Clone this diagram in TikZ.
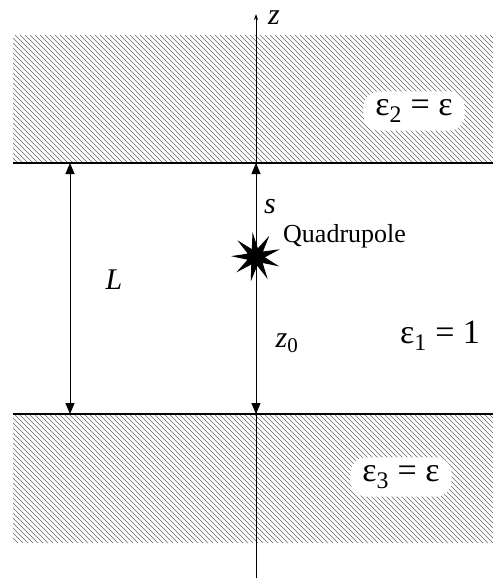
\documentclass[tikz,border=0pt]{standalone}
\usepackage{fontspec}
\setmainfont{Liberation Serif}
\usetikzlibrary{shapes.geometric,arrows.meta}
\begin{document}
\begin{tikzpicture}[x=1pt,y=-1pt,
  hatch/.style={gray!80!black,line width=0.55pt},
  boundary/.style={line width=1.6pt},
  dimarrow/.style={line width=1pt,-{Triangle[length=11pt,width=9pt]}},
  whitelabel/.style={fill=white,rounded corners=16pt,inner xsep=12pt,inner ysep=8pt,font=\fontsize{34}{36}\selectfont},
  txt/.style={font=\fontsize{30}{32}\selectfont\itshape}]
\useasboundingbox (0,0) rectangle (493,582);
% hatching
\begin{scope}
\clip (13,35) rectangle (493,163);
\foreach \i in {-200,-195,...,500} {\draw[hatch] (\i,0) -- ++(200,200);}
\end{scope}
\begin{scope}
\clip (13,414) rectangle (493,542);
\foreach \i in {-200,-195,...,500} {\draw[hatch] (\i,380) -- ++(200,200);}
\end{scope}
% labels in hatched regions
\node[whitelabel] (e2) at (414,111) {ε\textsubscript{2} = ε};
\node[whitelabel] (e3) at (401,477) {ε\textsubscript{3} = ε};
% boundaries
\coordinate (tl) at (13,163); \coordinate (tr) at (493,163);
\coordinate (bl) at (13,414); \coordinate (br) at (493,414);
\draw[boundary] (tl) -- (tr);
\draw[boundary] (bl) -- (br);
% axis
\coordinate (ab) at (256,578); \coordinate (at) at (256,14);
\draw[line width=0.8pt,-{Stealth[length=6pt,width=4pt]}] (ab) -- (at);
\node[font=\fontsize{30}{32}\selectfont\itshape,anchor=base west,inner sep=0pt] (z) at (268,24) {z};
% star
\node[star,star points=9,star point ratio=2.8,minimum size=50pt,inner sep=0pt,fill=black,rotate=8] (q) at (256,257) {};
\node[font=\fontsize{26}{28}\selectfont,anchor=west,inner sep=0pt] (ql) at (283,236) {Quadrupole};
% arrows from star
\coordinate (ut) at (256,163); \coordinate (dt) at (256,414);
\draw[dimarrow] (q.center) -- (ut);
\draw[dimarrow] (q.center) -- (dt);
\node[txt] (s) at (270,207) {s};
\node[txt] (z0) at (287,343) {z\textsubscript{\upshape 0}};
% L arrow
\coordinate (lt) at (70,163); \coordinate (lb) at (70,414);
\draw[line width=1pt,{Triangle[length=11pt,width=9pt]}-{Triangle[length=11pt,width=9pt]}] (lt) -- (lb);
\node[txt] (L) at (114,280) {L};
% eps1
\node[font=\fontsize{34}{36}\selectfont] (e1) at (440,336) {ε\textsubscript{1} = 1};
\end{tikzpicture}
\end{document}
